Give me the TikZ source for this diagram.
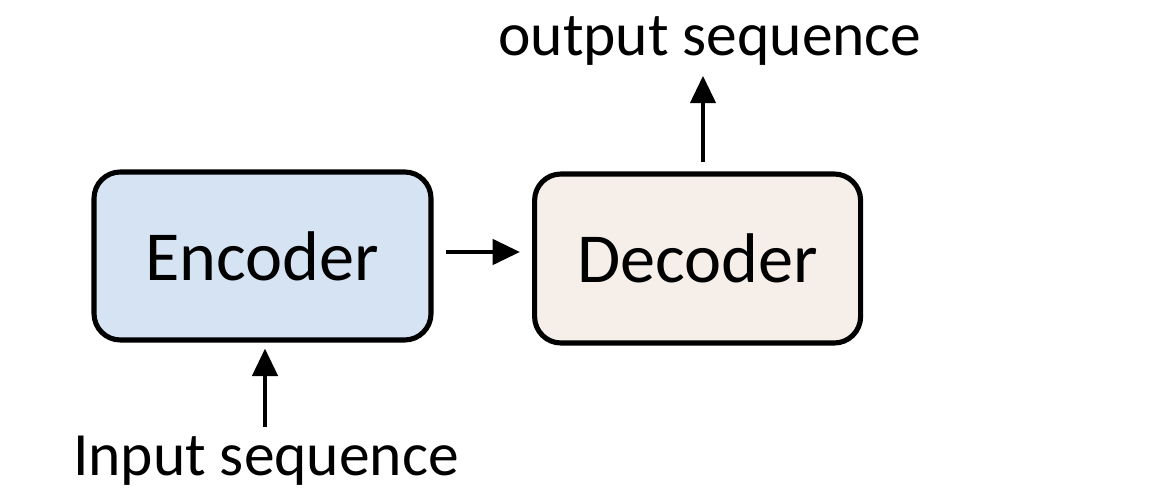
\documentclass[tikz,border=0pt]{standalone}
\usepackage{fontspec}
\setmainfont{Carlito}
\usepackage{tikz}
\usetikzlibrary{arrows.meta, positioning}
\definecolor{encblau}{RGB}{214,227,243}
\definecolor{decbeige}{RGB}{246,238,232}

\begin{document}
\begin{tikzpicture}[
    box/.style={
        rectangle, draw, rounded corners=15pt,
        line width=2.9pt,
        minimum height=3.36cm, minimum width=6.74cm,
        align=center, font=\fontsize{40}{44}\selectfont
    },
    arrow/.style={
        -{Triangle[length=5.5mm, width=5mm]}, line width=2.7pt, black
    },
    lbl/.style={
        font=\fontsize{35}{40}\selectfont, inner sep=0pt
    }
]
\useasboundingbox (0,0) rectangle (23.36,10.02);

\node[box, fill=encblau] (enc) at (5.25,4.90) {Encoder};
\node[box, fill=decbeige, minimum width=6.52cm, minimum height=3.38cm,
    right=1.97cm of enc.east, anchor=west, yshift=-0.05cm] (dec) {Decoder};

\node[lbl] (inlbl) at (5.32,0.80) {Input sequence};
\node[lbl] (outlbl) at (14.20,9.20) {output sequence};

\draw[arrow, shorten <=0.24cm, shorten >=0.24cm] (enc.east |- 0,4.98) -- (dec.west |- 0,4.98);
\draw[arrow, shorten <=0.18cm, shorten >=0.2cm] (dec.north -| 14.06,0) -- (outlbl.south -| 14.06,0);
\draw[arrow, shorten <=0.18cm, shorten >=0.12cm] (inlbl.north -| 5.30,0) -- (enc.south -| 5.30,0);

\end{tikzpicture}
\end{document}
